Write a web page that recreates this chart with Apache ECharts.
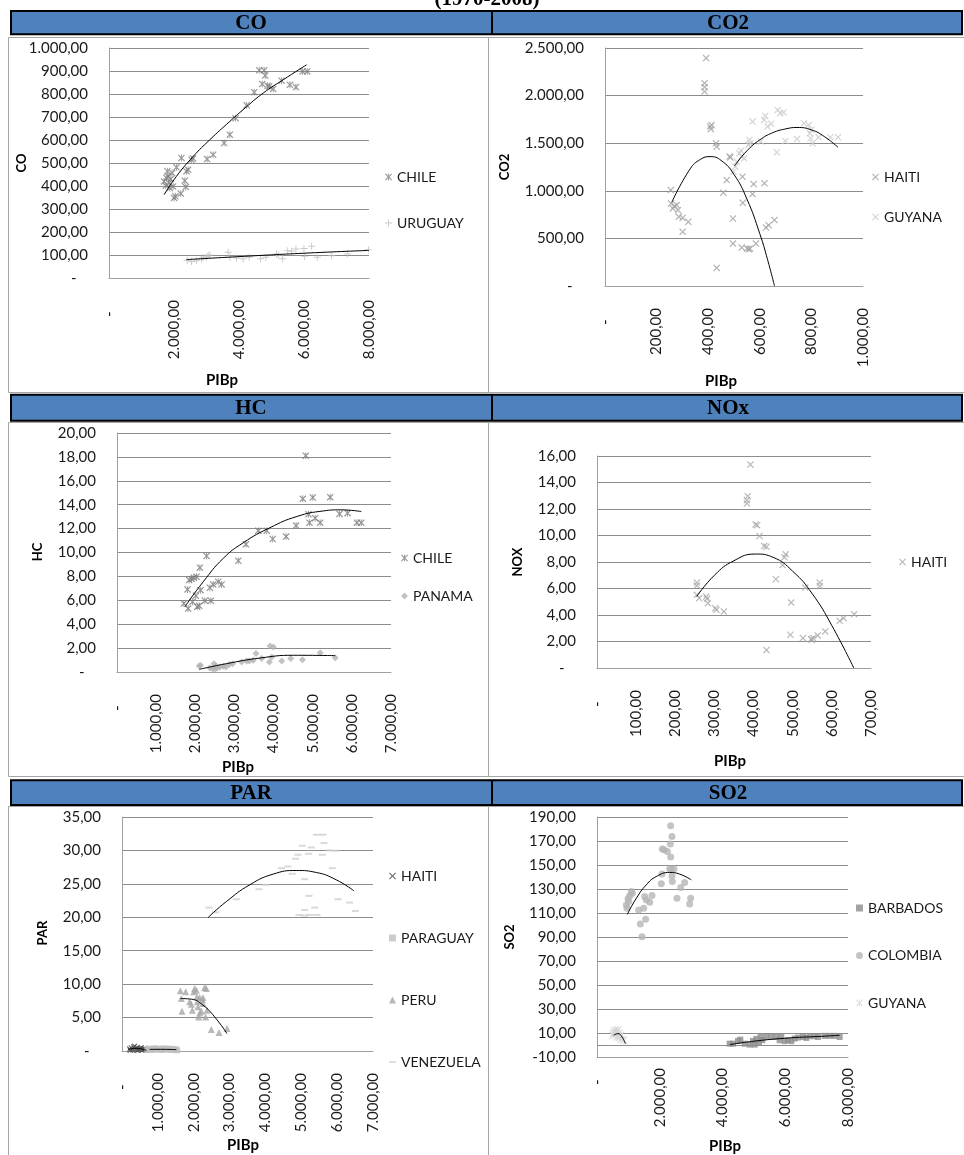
<!DOCTYPE html>
<html>
<head>
<meta charset="utf-8">
<title>Emisiones vs PIBp (1970-2008)</title>
<script src="https://cdn.jsdelivr.net/npm/echarts@6/dist/echarts.min.js"></script>
<style>
  html, body { margin: 0; padding: 0; background: #ffffff; }
  #chart { width: 964px; height: 1155px; }
</style>
</head>
<body>
<div id="chart"></div>
<script>
// ---------- data: [PIBp, emission] pairs per country ----------
const CO_CHILE = [[1695,420],[1746,401],[1767,435],[1797,464],[1818,442],[1849,413],[1869,391],[1900,430],[1941,456],[1972,398],[2003,348],[2044,355],[2075,481],[2208,367],[2229,522],[2331,423],[2362,396],[2383,464],[2434,471],[2537,514],[2588,520],[3019,517],[3204,536],[3543,587],[3718,623],[3893,695],[4232,751],[4468,808],[4622,903],[4715,843],[4776,903],[4807,880],[4879,836],[4930,833],[5053,822],[5310,858],[5567,840],[5752,830],[5957,898],[6100,898]];
const CO_URUGUAY = [[2403,77],[2537,72],[2691,75],[2845,83],[2896,90],[3000,91],[3050,97],[3101,100],[3666,112],[3718,90],[3923,87],[4129,84],[4314,90],[4663,84],[4827,90],[5155,104],[5207,99],[5341,84],[5485,119],[5618,116],[5752,126],[5998,128],[6018,94],[6234,138],[6409,90],[6850,97],[7333,104],[7980,123]];
const CO_CHILE_TREND = [[1695,362],[2075,442],[2600,530],[3101,601],[3718,681],[4129,732],[4745,804],[5361,862],[6080,927]];
const CO_URUGUAY_TREND = [[2383,80],[4129,94],[6183,109],[8000,120]];

const CO2_HAITI = [[255,1008],[256,867],[263,815],[270,840],[278,850],[283,797],[286,727],[301,716],[323,674],[301,569],[386,2131],[386,2089],[386,2043],[392,2394],[408,1675],[410,1647],[413,1690],[430,1499],[433,1464],[433,190],[459,980],[472,1113],[483,1359],[486,1350],[496,709],[496,446],[530,404],[534,874],[533,1148],[551,393],[557,386],[562,392],[572,966],[576,1071],[585,446],[618,1078],[624,614],[634,639],[657,692]];
const CO2_GUYANA = [[498,1201],[505,1253],[511,1306],[521,1394],[527,1422],[530,1359],[539,1341],[556,1482],[560,1534],[563,1499],[572,1727],[604,1517],[617,1745],[621,1787],[630,1675],[644,1703],[666,1404],[669,1850],[679,1815],[692,1822],[699,1524],[744,1545],[771,1710],[790,1692],[794,1605],[797,1552],[800,1640],[805,1499],[828,1562],[873,1562],[903,1562]];
const CO2_HAITI_TREND = [[259,880],[330,1230],[370,1330],[407,1359],[450,1319],[500,1171],[550,914],[600,549],[630,278],[657,0]];
const CO2_GUYANA_TREND = [[502,1260],[550,1420],[600,1535],[650,1610],[700,1650],[744,1665],[800,1640],[850,1570],[903,1457]];

const HC_CHILE = [[1707,5.73],[1818,5.31],[1801,6.91],[1844,7.69],[1904,7.78],[1963,7.89],[2032,7.97],[1929,5.87],[2015,6.38],[2049,5.45],[2100,5.54],[2117,8.73],[2134,6.85],[2288,9.71],[2245,5.96],[2399,5.96],[2373,7.05],[2459,7.33],[2587,7.55],[2672,7.33],[3099,9.31],[3295,10.68],[3611,11.83],[3825,11.83],[3978,11.13],[4320,11.33],[4576,12.25],[4747,14.49],[4823,18.10],[4892,13.20],[4917,12.50],[5003,14.60],[5062,12.87],[5191,12.50],[5447,14.63],[5686,13.23],[5891,13.29],[6130,12.50],[6241,12.50]];
const HC_PANAMA = [[2100,0.50],[2134,0.56],[2373,0.34],[2442,0.28],[2476,0.70],[2501,0.22],[2527,0.50],[2561,0.34],[2629,0.42],[2715,0.48],[2783,0.42],[2868,0.62],[2954,0.70],[3184,0.84],[3312,0.92],[3381,0.92],[3483,0.98],[3551,1.54],[3696,1.12],[3893,0.84],[3910,2.18],[3953,1.26],[3995,2.10],[4209,0.92],[4439,1.12],[4738,1.03],[5191,1.62],[5575,1.20]];
const HC_CHILE_TREND = [[1733,5.45],[2203,7.55],[2715,9.51],[3227,10.82],[3910,12.08],[4593,13.01],[5276,13.48],[5703,13.57],[6241,13.43]];
const HC_PANAMA_TREND = [[2100,0.22],[2800,0.70],[3654,1.17],[4508,1.40],[5575,1.37]];

const NOX_HAITI = [[255,6.45],[255,6.22],[255,5.52],[261,5.27],[279,5.39],[281,5.22],[283,4.89],[302,4.51],[305,4.39],[324,4.26],[392,15.35],[385,12.97],[383,12.67],[383,12.42],[405,10.83],[409,10.78],[415,9.96],[427,9.20],[433,9.15],[433,1.35],[457,6.70],[474,7.77],[479,8.35],[482,8.58],[496,4.94],[494,2.51],[526,2.26],[532,6.07],[547,2.18],[549,2.13],[552,2.26],[564,2.46],[569,6.45],[569,6.19],[583,2.76],[620,3.56],[630,3.76],[657,4.06]];
const NOX_HAITI_TREND = [[255,5.4],[300,7.0],[350,8.1],[405,8.6],[450,8.35],[500,7.3],[550,5.6],[600,3.2],[656,0]];

const PAR_HAITI = [[214,0.30],[232,0.10],[260,0.45],[290,0.25],[307,0.20],[325,0.60],[353,0.70],[381,0.35],[400,0.15],[428,0.50],[446,0.10],[470,0.25],[493,0.30],[515,0.40],[539,0.45],[560,0.20],[586,0.20],[610,0.30],[632,0.35],[660,0.15]];
const PAR_PARAGUAY = [[705,0.20],[742,0.35],[776,0.25],[825,0.15],[858,0.30],[903,0.40],[936,0.20],[985,0.25],[1018,0.35],[1064,0.30],[1097,0.15],[1145,0.25],[1176,0.40],[1224,0.30],[1257,0.20],[1305,0.35],[1338,0.25],[1384,0.15],[1417,0.30],[1463,0.20],[1502,0.25],[1540,0.10]];
const PAR_PERU = [[1627,9.00],[1776,8.85],[1655,7.85],[1673,5.95],[1887,7.35],[1934,7.00],[1961,6.10],[1999,8.85],[2027,9.35],[2073,9.10],[2092,8.10],[2101,7.35],[2120,6.60],[2138,5.10],[2166,5.70],[2166,8.00],[2213,5.95],[2240,7.70],[2259,7.10],[2259,8.00],[2305,9.50],[2333,5.10],[2352,9.35],[2370,6.10],[2491,3.20],[2705,2.75],[2928,3.35]];
const PAR_VENEZUELA = [[2426,21.45],[2612,20.75],[3188,22.70],[3821,24.20],[4007,24.85],[4444,27.35],[4629,27.60],[4750,26.50],[4843,28.75],[4908,29.35],[4936,20.35],[5029,30.70],[5094,20.25],[5094,21.10],[5094,25.70],[5206,29.50],[5215,23.20],[5234,20.35],[5280,30.45],[5373,21.45],[5420,32.35],[5438,20.35],[5587,29.35],[5606,32.35],[5634,31.10],[5792,30.00],[5866,27.35],[5959,29.95],[6024,22.70],[6349,22.20],[6507,20.95]];
const PAR_HAITI_TREND = [[167,0.25],[400,0.40],[679,0.10]];
const PAR_PARAGUAY_TREND = [[772,0.25],[1143,0.25],[1515,0.20]];
const PAR_PERU_TREND = [[1627,7.85],[1934,7.75],[2259,6.85],[2584,5.10],[2928,2.60]];
const PAR_VENEZUELA_TREND = [[2398,19.95],[2910,22.35],[3560,24.85],[4211,26.45],[4862,27.00],[5420,26.70],[5977,25.60],[6470,23.95]];

const SO2_BARBADOS = [[4228,1.1],[4335,1.1],[4494,3.4],[4568,4.5],[4706,1.1],[4866,0.3],[4972,3.4],[5025,0.3],[5078,5.1],[5163,1.7],[5216,6.7],[5269,4.0],[5397,6.7],[5556,6.7],[5716,6.7],[5822,4.0],[5875,7.3],[5981,3.2],[6088,4.0],[6194,3.2],[6300,5.4],[6407,6.2],[6566,6.7],[6672,5.9],[6778,7.3],[6938,7.3],[7044,6.7],[7256,7.6],[7416,7.6],[7575,7.6],[7734,6.7]];
const SO2_COLOMBIA = [[2348,182.8],[2390,173.8],[2337,167.4],[2082,163.3],[2135,162.7],[2242,161.3],[2348,156.6],[2316,146.8],[2369,146.5],[2454,146.8],[2390,141.0],[2072,142.6],[2050,134.3],[2401,136.2],[2667,131.2],[2794,135.4],[2550,122.3],[2985,122.3],[2953,117.6],[1753,124.5],[1679,119.0],[1572,120.9],[1551,104.8],[1487,114.0],[1328,112.6],[1381,100.9],[1434,90.3],[1126,126.5],[1041,124.3],[988,121.8],[935,116.7],[956,114.0],[1009,119.5],[1094,127.9],[1519,123.7]];
const SO2_GUYANA = [[510,8.1],[531,10.1],[563,12.3],[595,10.9],[616,9.5],[648,6.7],[669,12.8],[701,10.1],[722,6.7],[754,8.1],[776,4.8],[850,3.9]];
const SO2_BARBADOS_TREND = [[4228,0.3],[5078,3.4],[6141,5.9],[7203,7.3],[7734,8.1]];
const SO2_COLOMBIA_TREND = [[967,108.9],[1254,122.3],[1572,133.5],[1891,140.4],[2316,143.8],[2635,142.4],[3007,137.6]];
const SO2_GUYANA_TREND = [[531,8.1],[669,9.5],[797,6.7],[903,1.1]];

// ---------- marker shapes ----------
const SYM_X = 'path://M0,1.2L1.2,0L5,3.8L8.8,0L10,1.2L6.2,5L10,8.8L8.8,10L5,6.2L1.2,10L0,8.8L3.8,5Z';
const SYM_STAR = 'path://M0,1.2L1.2,0L5,3.8L8.8,0L10,1.2L6.2,5L10,8.8L8.8,10L5,6.2L1.2,10L0,8.8L3.8,5Z M4.4,0L5.6,0L5.6,10L4.4,10Z';
const SYM_PLUS = 'path://M4.3,0H5.7V4.3H10V5.7H5.7V10H4.3V5.7H0V4.3H4.3Z';
const SYM_DASH = 'path://M0,0H10V2.4H0Z';

const LABEL_FONT = 'Lato, "Open Sans", sans-serif';
const SERIF = '"Liberation Serif", "DejaVu Serif", serif';
const GRID_GRAY = '#8c8c8c';
const AXIS_GRAY = '#a0a0a0';

// Spanish number format: 1.000,00 ; zero shown as a dash
function fmt(v) {
  if (Math.abs(v) < 1e-9) return '-\u00a0\u00a0\u00a0';
  const neg = v < 0;
  const parts = Math.abs(v).toFixed(2).split('.');
  const intPart = parts[0].replace(/\B(?=(\d{3})+(?!\d))/g, '.');
  return (neg ? '-' : '') + intPart + ',' + parts[1];
}

// ---------- panel layout ----------
const panels = [
  { yTitle: 'CO', grid: [109, 48, 260, 230], xMax: 8000, xStep: 2000, yMin: 0, yMax: 1000, yStep: 100,
    xLabelMargin: 22, legend: { left: 385, top: 169, gap: 30 },
    yTitlePos: [22, 163], xTitlePos: [222, 380],
    items: [
      { name: 'CHILE', key: 'CO', data: CO_CHILE, trend: CO_CHILE_TREND, symbol: SYM_STAR, size: 7, color: '#7f7f7f' },
      { name: 'URUGUAY', key: 'CO', data: CO_URUGUAY, trend: CO_URUGUAY_TREND, symbol: SYM_PLUS, size: 7, color: '#bdbdbd' }
    ] },
  { yTitle: 'CO2', grid: [605, 48, 258, 238], xMax: 1000, xStep: 200, yMin: 0, yMax: 2500, yStep: 500,
    xLabelMargin: 22, legend: { left: 872, top: 169, gap: 24 },
    yTitlePos: [505, 167], xTitlePos: [721, 381],
    items: [
      { name: 'HAITI', key: 'CO2', data: CO2_HAITI, trend: CO2_HAITI_TREND, symbol: SYM_X, size: 7, color: '#a0a0a0' },
      { name: 'GUYANA', key: 'CO2', data: CO2_GUYANA, trend: CO2_GUYANA_TREND, symbol: SYM_X, size: 7, color: '#cacaca' }
    ] },
  { yTitle: 'HC', grid: [117, 433, 274, 239], xMax: 7000, xStep: 1000, yMin: 0, yMax: 20, yStep: 2,
    xLabelMargin: 22, legend: { left: 401, top: 550, gap: 22 },
    yTitlePos: [38, 552], xTitlePos: [238, 767],
    items: [
      { name: 'CHILE', key: 'HC', data: HC_CHILE, trend: HC_CHILE_TREND, symbol: SYM_STAR, size: 7, color: '#7a7a7a' },
      { name: 'PANAMA', key: 'HC', data: HC_PANAMA, trend: HC_PANAMA_TREND, symbol: 'diamond', size: 7, color: '#b3b3b3' }
    ] },
  { yTitle: 'NOX', grid: [597, 456, 274, 212], xMax: 700, xStep: 100, yMin: 0, yMax: 16, yStep: 2,
    xLabelMargin: 22, legend: { left: 899, top: 554, gap: 22 },
    yTitlePos: [518, 562], xTitlePos: [730, 761],
    items: [
      { name: 'HAITI', key: 'NOx', data: NOX_HAITI, trend: NOX_HAITI_TREND, symbol: SYM_X, size: 7, color: '#a8a8a8' }
    ] },
  { yTitle: 'PAR', grid: [122, 817, 251, 234], xMax: 7000, xStep: 1000, yMin: 0, yMax: 35, yStep: 5,
    xLabelMargin: 22, legend: { left: 389, top: 868, gap: 46 },
    yTitlePos: [43, 933], xTitlePos: [243, 1145],
    items: [
      { name: 'HAITI', key: 'PAR', data: PAR_HAITI, trend: PAR_HAITI_TREND, symbol: SYM_X, size: 6, color: '#4d4d4d' },
      { name: 'PARAGUAY', key: 'PAR', data: PAR_PARAGUAY, trend: PAR_PARAGUAY_TREND, symbol: 'rect', size: 6, color: '#bfbfbf' },
      { name: 'PERU', key: 'PAR', data: PAR_PERU, trend: PAR_PERU_TREND, symbol: 'triangle', size: 7, color: '#a6a6a6' },
      { name: 'VENEZUELA', key: 'PAR', data: PAR_VENEZUELA, trend: PAR_VENEZUELA_TREND, symbol: SYM_DASH, size: [7, 2], color: '#cfcfcf' }
    ] },
  { yTitle: 'SO2', grid: [597, 817, 251, 240], xMax: 8000, xStep: 2000, yMin: -10, yMax: 190, yStep: 20,
    xLabelMargin: 11, legend: { left: 856, top: 900, gap: 31.5 }, zeroLine: true,
    yTitlePos: [510, 937], xTitlePos: [725, 1146],
    items: [
      { name: 'BARBADOS', key: 'SO2', data: SO2_BARBADOS, trend: SO2_BARBADOS_TREND, symbol: 'rect', size: 6, color: '#8c8c8c' },
      { name: 'COLOMBIA', key: 'SO2', data: SO2_COLOMBIA, trend: SO2_COLOMBIA_TREND, symbol: 'circle', size: 7, color: '#b5b5b5' },
      { name: 'GUYANA', key: 'SO2', data: SO2_GUYANA, trend: SO2_GUYANA_TREND, symbol: SYM_STAR, size: 8, color: '#d6d6d6' }
    ] }
];

const grids = [], xAxes = [], yAxes = [], series = [], legends = [], graphics = [];

// table cells (thin gray borders) and blue header bands
const cellRows = [[37.5, 355], [422.5, 354], [806.5, 360]];
cellRows.forEach(function (r) {
  graphics.push({ type: 'rect', z: 0, shape: { x: 8.5, y: r[0], width: 480, height: r[1] },
    style: { fill: 'none', stroke: '#a6a6a6', lineWidth: 1 } });
  graphics.push({ type: 'rect', z: 0, shape: { x: 488.5, y: r[0], width: 480, height: r[1] },
    style: { fill: 'none', stroke: '#a6a6a6', lineWidth: 1 } });
});
const headers = [
  { y: 11, h: 23.3, left: 'CO', right: 'CO2' },
  { y: 394.7, h: 26, left: 'HC', right: 'NOx' },
  { y: 780.3, h: 24.7, left: 'PAR', right: 'SO2' }
];
headers.forEach(function (h) {
  graphics.push({ type: 'rect', z: 5, shape: { x: 11, y: h.y, width: 951, height: h.h },
    style: { fill: '#4f81bd', stroke: '#000', lineWidth: 2 } });
  graphics.push({ type: 'line', z: 6, shape: { x1: 492, y1: h.y, x2: 492, y2: h.y + h.h },
    style: { stroke: '#000', lineWidth: 2 } });
  [[h.left, 251], [h.right, 728]].forEach(function (t) {
    graphics.push({ type: 'text', z: 7, x: t[1], y: h.y + h.h / 2 + 1,
      style: { text: t[0], font: 'bold 21px ' + SERIF, fill: '#000', textAlign: 'center', textVerticalAlign: 'middle' } });
  });
});
graphics.push({ type: 'text', z: 7, x: 487, y: 10,
  style: { text: '(1970-2008)', font: 'bold 21px ' + SERIF, fill: '#000', textAlign: 'center', textVerticalAlign: 'bottom' } });

panels.forEach(function (p, i) {
  grids.push({ left: p.grid[0], top: p.grid[1], width: p.grid[2], height: p.grid[3], outerBoundsMode: 'none' });
  xAxes.push({
    type: 'value', gridIndex: i, min: 0, max: p.xMax, interval: p.xStep,
    axisLine: { show: true, onZero: false, lineStyle: { color: AXIS_GRAY, width: 1 } },
    axisTick: { show: false }, splitLine: { show: false },
    axisLabel: { rotate: 90, margin: p.xLabelMargin, formatter: fmt, fontFamily: LABEL_FONT, fontSize: 15,
      color: '#1a1a1a', showMinLabel: true, showMaxLabel: true }
  });
  yAxes.push({
    type: 'value', gridIndex: i, min: p.yMin, max: p.yMax, interval: p.yStep,
    axisLine: { show: true, lineStyle: { color: AXIS_GRAY, width: 1 } },
    axisTick: { show: false },
    splitLine: { show: true, lineStyle: { color: GRID_GRAY, width: 1 } },
    axisLabel: { margin: 21, formatter: fmt, fontFamily: LABEL_FONT, fontSize: 15, color: '#1a1a1a',
      showMinLabel: true, showMaxLabel: true }
  });
  const names = [];
  p.items.forEach(function (it, k) {
    const sName = it.name + '|' + it.key;
    names.push(sName);
    const s = {
      type: 'scatter', name: sName, xAxisIndex: i, yAxisIndex: i, data: it.data,
      symbol: it.symbol, symbolSize: it.size, itemStyle: { color: it.color }, z: 2
    };
    if (p.zeroLine && k === 0) {
      s.markLine = { silent: true, symbol: 'none', label: { show: false }, animation: false,
        lineStyle: { color: GRID_GRAY, type: 'solid', width: 1 }, data: [{ yAxis: 0 }] };
    }
    series.push(s);
    series.push({
      type: 'line', name: 'trend ' + sName, xAxisIndex: i, yAxisIndex: i, data: it.trend,
      smooth: true, showSymbol: false, silent: true, z: 4,
      lineStyle: { color: '#000', width: 1 }
    });
  });
  legends.push({
    orient: 'vertical', left: p.legend.left, top: p.legend.top, itemGap: p.legend.gap, padding: 0,
    itemWidth: 7, itemHeight: 7, selectedMode: false, data: names,
    formatter: function (n) { return n.split('|')[0]; },
    textStyle: { fontFamily: LABEL_FONT, fontSize: 14, color: '#1a1a1a', lineHeight: 16 }
  });
  // axis titles
  graphics.push({ type: 'text', z: 7, x: p.xTitlePos[0], y: p.xTitlePos[1],
    style: { text: 'PIBp', font: 'bold 15px ' + LABEL_FONT, fill: '#000', textAlign: 'center', textVerticalAlign: 'middle' } });
  graphics.push({ type: 'text', z: 7, x: p.yTitlePos[0], y: p.yTitlePos[1], rotation: Math.PI / 2,
    style: { text: p.yTitle, font: 'bold 13px ' + LABEL_FONT, fill: '#000', textAlign: 'center', textVerticalAlign: 'middle' } });
});

const chart = echarts.init(document.getElementById('chart'), null, { renderer: 'canvas' });
chart.setOption({
  animation: false,
  backgroundColor: '#ffffff',
  grid: grids,
  xAxis: xAxes,
  yAxis: yAxes,
  legend: legends,
  series: series,
  graphic: { elements: graphics }
});
</script>
</body>
</html>
